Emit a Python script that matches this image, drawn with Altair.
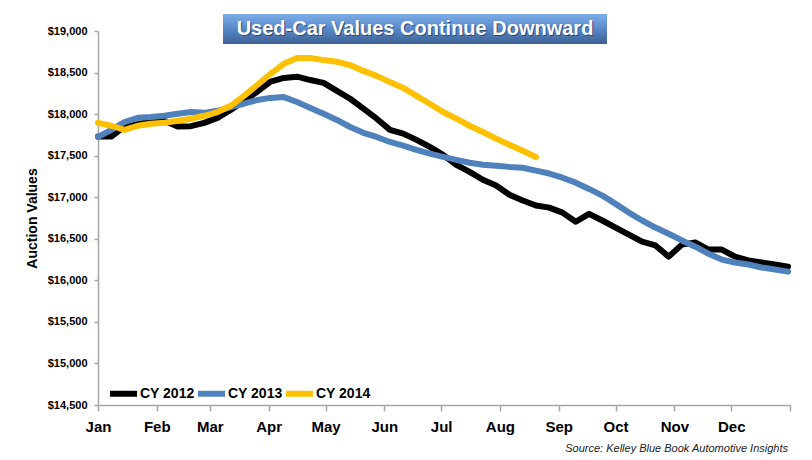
import altair as alt
import pandas as pd

# ---- data (weekly auction values) ----
series_names = ["CY 2012", "CY 2013", "CY 2014"]
series_colors = ["#000000", "#4f81bd", "#ffc000"]

cy2012 = [17730, 17730, 17850, 17880, 17905, 17920, 17850, 17855, 17895, 17955,
          18050, 18160, 18270, 18390, 18435, 18450, 18410, 18375, 18280, 18185,
          18065, 17945, 17810, 17765, 17690, 17605, 17510, 17390, 17305, 17210,
          17140, 17030, 16960, 16900, 16875, 16815, 16705, 16800, 16720, 16635,
          16550, 16465, 16420, 16285, 16430, 16455, 16370, 16370, 16285, 16240,
          16215, 16190, 16165]
cy2013 = [17725, 17810, 17905, 17955, 17965, 17980, 18005, 18025, 18015, 18040,
          18085, 18125, 18170, 18195, 18205, 18145, 18075, 18005, 17930, 17845,
          17775, 17725, 17665, 17620, 17570, 17525, 17485, 17450, 17415, 17390,
          17380, 17365, 17355, 17320, 17285, 17235, 17175, 17100, 17020, 16920,
          16815, 16720, 16635, 16560, 16480, 16405, 16320, 16250, 16215, 16190,
          16155, 16130, 16105]
cy2014 = [17895, 17860, 17810, 17860, 17885, 17895, 17920, 17945, 17980, 18025,
          18100, 18220, 18350, 18485, 18605, 18675, 18675, 18650, 18630, 18590,
          18520, 18460, 18385, 18315, 18220, 18125, 18025, 17945, 17860, 17785,
          17705, 17630, 17560, 17485]

y_ticks = list(range(14500, 19001, 500))
title_text = "Used-Car Values Continue Downward"
source_text = "Source: Kelley Blue Book Automotive Insights"
y_title = "Auction Values"

rows = []
for name, vals in zip(series_names, [cy2012, cy2013, cy2014]):
    for w, v in enumerate(vals):
        d = (pd.Timestamp("2013-01-01") + pd.Timedelta(days=7 * w)).strftime("%Y-%m-%d")
        rows.append({"date": d, "value": v, "series": name, "week": w})
df = pd.DataFrame(rows)

FONT = "Liberation Sans"
month_starts = [alt.DateTime(year=2013, month=m, date=1, utc=True) for m in range(1, 13)]
month_starts.append(alt.DateTime(year=2014, month=1, date=1, utc=True))

lines = alt.Chart(df).mark_line(strokeWidth=6, strokeCap="round", strokeJoin="round").encode(
    x=alt.X("date:T",
            scale=alt.Scale(type="utc", domain=[month_starts[0], month_starts[-1]]),
            axis=alt.Axis(values=month_starts, title=None, grid=False,
                          labelExpr="utcyear(datum.value) > 2013 ? '' : utcFormat(datum.value, '%b')",
                          labelFont=FONT, labelFontSize=15, labelFontWeight="bold",
                          labelColor="#000000", labelPadding=8, labelFlush=False,
                          domainColor="#a6a6a6", tickColor="#a6a6a6", tickSize=6,
                          domainWidth=1.5, tickWidth=1.5)),
    y=alt.Y("value:Q",
            scale=alt.Scale(domain=[14500, 19000], nice=False, zero=False),
            axis=alt.Axis(values=y_ticks, format="$,.0f", title=y_title, grid=False,
                          labelFont=FONT, labelFontSize=11, labelFontWeight="bold",
                          labelColor="#000000", labelPadding=7,
                          domainColor="#a6a6a6", tickColor="#a6a6a6", tickSize=4,
                          domainWidth=1.5, tickWidth=1.5,
                          titleFont=FONT, titleFontSize=14, titleFontWeight="bold",
                          titleColor="#000000", titleX=-66, titleY=187,
                          titleAlign="center", titleBaseline="middle", titleAngle=270)),
    color=alt.Color("series:N",
                    scale=alt.Scale(domain=series_names, range=series_colors),
                    legend=alt.Legend(orient="none", legendX=9, legendY=346,
                                      direction="horizontal", title=None,
                                      symbolType="stroke", symbolStrokeWidth=6,
                                      symbolSize=729, labelFont=FONT, labelFontSize=14,
                                      labelFontWeight="bold", labelColor="#000000",
                                      labelOffset=0, columnPadding=-9, padding=0)),
    order="week:Q",
)

one = pd.DataFrame({"t": [title_text]})

frame_left = alt.Chart(one).mark_rule(color="#c8c8c8", strokeWidth=1.5).encode(
    x=alt.value(-91), y=alt.value(-24), y2=alt.value(432))
frame_top = alt.Chart(one).mark_rule(color="#c8c8c8", strokeWidth=1.5).encode(
    x=alt.value(-91), x2=alt.value(716), y=alt.value(-24))

grad = alt.Gradient(
    gradient="linear",
    stops=[alt.GradientStop(offset=0, color="#7eaee8"),
           alt.GradientStop(offset=0.45, color="#5b8bcb"),
           alt.GradientStop(offset=1, color="#3d6194")],
    x1=0, x2=0, y1=0, y2=1)

title_box = alt.Chart(one).mark_rect(fill=grad).encode(
    x=alt.value(125), x2=alt.value(509), y=alt.value(-17), y2=alt.value(13))
title_shadow = alt.Chart(one).mark_text(
    font=FONT, fontSize=20, fontWeight="bold", color="#2b4a78",
    align="center", baseline="middle").encode(
    text="t:N", x=alt.value(318), y=alt.value(-1))
title_txt = alt.Chart(one).mark_text(
    font=FONT, fontSize=20, fontWeight="bold", color="#ffffff",
    align="center", baseline="middle").encode(
    text="t:N", x=alt.value(317), y=alt.value(-2))

src = pd.DataFrame({"t": [source_text]})
source = alt.Chart(src).mark_text(
    font=FONT, fontSize=11, fontStyle="italic", color="#222222",
    align="right", baseline="middle").encode(
    text="t:N", x=alt.value(690), y=alt.value(418))

chart = alt.layer(frame_left, frame_top, lines, title_box, title_shadow, title_txt, source).properties(
    width=692, height=374,
    autosize=alt.AutoSizeParams(type="none"),
    padding={"left": 90, "top": 23, "right": 14, "bottom": 54},
    background="#ffffff",
).configure_view(stroke=None)

chart.save("out.html", embed_options={"renderer": "svg", "actions": False})
